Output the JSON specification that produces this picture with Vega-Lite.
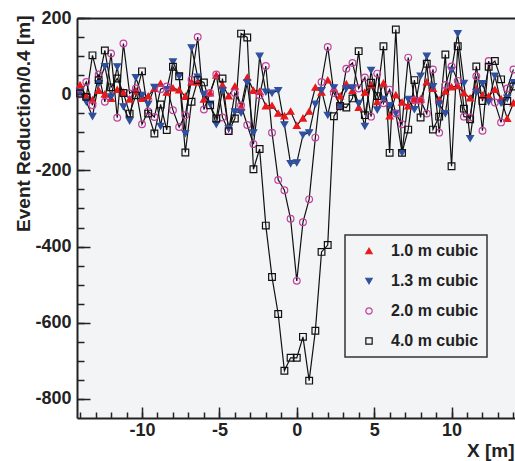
{
  "$schema": "https://vega.github.io/schema/vega-lite/v6.json",
  "width": 438,
  "height": 400,
  "autosize": {"type": "none"},
  "padding": {"left": 77, "top": 18, "right": 0, "bottom": 43},
  "background": "white",
  "config": {
    "view": {"stroke": null, "fill": "#f3f4f6"},
    "font": "Liberation Sans",
    "legend": {"strokeWidth": 1.5}
  },
  "datasets": {
    "pts": [
      {"x":-14,"v":24,"s":"1.0 m cubic"},{"x":-13.6,"v":-5,"s":"1.0 m cubic"},{"x":-13.2,"v":-15,"s":"1.0 m cubic"},{"x":-12.8,"v":10,"s":"1.0 m cubic"},{"x":-12.4,"v":0,"s":"1.0 m cubic"},{"x":-12,"v":-11,"s":"1.0 m cubic"},{"x":-11.6,"v":12,"s":"1.0 m cubic"},{"x":-11.2,"v":5,"s":"1.0 m cubic"},{"x":-10.8,"v":-13,"s":"1.0 m cubic"},{"x":-10.4,"v":8,"s":"1.0 m cubic"},
      {"x":-10,"v":-11,"s":"1.0 m cubic"},{"x":-9.6,"v":-5,"s":"1.0 m cubic"},{"x":-9.2,"v":15,"s":"1.0 m cubic"},{"x":-8.8,"v":28,"s":"1.0 m cubic"},{"x":-8.4,"v":5,"s":"1.0 m cubic"},{"x":-8,"v":16,"s":"1.0 m cubic"},{"x":-7.6,"v":11,"s":"1.0 m cubic"},{"x":-7.2,"v":-6,"s":"1.0 m cubic"},{"x":-6.8,"v":32,"s":"1.0 m cubic"},{"x":-6.4,"v":32,"s":"1.0 m cubic"},
      {"x":-6,"v":-13,"s":"1.0 m cubic"},{"x":-5.6,"v":3,"s":"1.0 m cubic"},{"x":-5.2,"v":50,"s":"1.0 m cubic"},{"x":-4.8,"v":24,"s":"1.0 m cubic"},{"x":-4.4,"v":-5,"s":"1.0 m cubic"},{"x":-4,"v":21,"s":"1.0 m cubic"},{"x":-3.6,"v":-33,"s":"1.0 m cubic"},{"x":-3.2,"v":44,"s":"1.0 m cubic"},{"x":-2.8,"v":10,"s":"1.0 m cubic"},{"x":-2.4,"v":7,"s":"1.0 m cubic"},
      {"x":-2,"v":-31,"s":"1.0 m cubic"},{"x":-1.6,"v":-30,"s":"1.0 m cubic"},{"x":-1.2,"v":-50,"s":"1.0 m cubic"},{"x":-0.8,"v":-57,"s":"1.0 m cubic"},{"x":-0.4,"v":-45,"s":"1.0 m cubic"},{"x":0,"v":-82,"s":"1.0 m cubic"},{"x":0.4,"v":-63,"s":"1.0 m cubic"},{"x":0.8,"v":-45,"s":"1.0 m cubic"},{"x":1.2,"v":18,"s":"1.0 m cubic"},{"x":1.6,"v":5,"s":"1.0 m cubic"},
      {"x":2,"v":37,"s":"1.0 m cubic"},{"x":2.4,"v":15,"s":"1.0 m cubic"},{"x":2.8,"v":-5,"s":"1.0 m cubic"},{"x":3.2,"v":27,"s":"1.0 m cubic"},{"x":3.6,"v":10,"s":"1.0 m cubic"},{"x":4,"v":-35,"s":"1.0 m cubic"},{"x":4.4,"v":5,"s":"1.0 m cubic"},{"x":4.8,"v":24,"s":"1.0 m cubic"},{"x":5.2,"v":-20,"s":"1.0 m cubic"},{"x":5.6,"v":29,"s":"1.0 m cubic"},
      {"x":6,"v":-57,"s":"1.0 m cubic"},{"x":6.4,"v":-2,"s":"1.0 m cubic"},{"x":6.8,"v":-21,"s":"1.0 m cubic"},{"x":7.2,"v":-31,"s":"1.0 m cubic"},{"x":7.6,"v":-13,"s":"1.0 m cubic"},{"x":8,"v":-13,"s":"1.0 m cubic"},{"x":8.4,"v":32,"s":"1.0 m cubic"},{"x":8.8,"v":15,"s":"1.0 m cubic"},{"x":9.2,"v":-15,"s":"1.0 m cubic"},{"x":9.6,"v":8,"s":"1.0 m cubic"},
      {"x":10,"v":19,"s":"1.0 m cubic"},{"x":10.4,"v":22,"s":"1.0 m cubic"},{"x":10.8,"v":3,"s":"1.0 m cubic"},{"x":11.2,"v":-10,"s":"1.0 m cubic"},{"x":11.6,"v":14,"s":"1.0 m cubic"},{"x":12,"v":-3,"s":"1.0 m cubic"},{"x":12.4,"v":-5,"s":"1.0 m cubic"},{"x":12.8,"v":12,"s":"1.0 m cubic"},{"x":13.2,"v":-12,"s":"1.0 m cubic"},{"x":13.6,"v":-64,"s":"1.0 m cubic"},{"x":14,"v":-23,"s":"1.0 m cubic"},

      {"x":-14,"v":6,"s":"1.3 m cubic"},{"x":-13.6,"v":-20,"s":"1.3 m cubic"},{"x":-13.2,"v":-58,"s":"1.3 m cubic"},{"x":-12.8,"v":28,"s":"1.3 m cubic"},{"x":-12.4,"v":73,"s":"1.3 m cubic"},{"x":-12,"v":-7,"s":"1.3 m cubic"},{"x":-11.6,"v":72,"s":"1.3 m cubic"},{"x":-11.2,"v":-33,"s":"1.3 m cubic"},{"x":-10.8,"v":-70,"s":"1.3 m cubic"},{"x":-10.4,"v":44,"s":"1.3 m cubic"},
      {"x":-10,"v":-3,"s":"1.3 m cubic"},{"x":-9.6,"v":-26,"s":"1.3 m cubic"},{"x":-9.2,"v":18,"s":"1.3 m cubic"},{"x":-8.8,"v":-84,"s":"1.3 m cubic"},{"x":-8.4,"v":12,"s":"1.3 m cubic"},{"x":-8,"v":85,"s":"1.3 m cubic"},{"x":-7.6,"v":47,"s":"1.3 m cubic"},{"x":-7.2,"v":-103,"s":"1.3 m cubic"},{"x":-6.8,"v":122,"s":"1.3 m cubic"},{"x":-6.4,"v":45,"s":"1.3 m cubic"},
      {"x":-6,"v":0,"s":"1.3 m cubic"},{"x":-5.6,"v":-26,"s":"1.3 m cubic"},{"x":-5.2,"v":-79,"s":"1.3 m cubic"},{"x":-4.8,"v":10,"s":"1.3 m cubic"},{"x":-4.4,"v":-90,"s":"1.3 m cubic"},{"x":-4,"v":-46,"s":"1.3 m cubic"},{"x":-3.6,"v":-49,"s":"1.3 m cubic"},{"x":-3.2,"v":30,"s":"1.3 m cubic"},{"x":-2.8,"v":-101,"s":"1.3 m cubic"},{"x":-2.4,"v":100,"s":"1.3 m cubic"},
      {"x":-2,"v":6,"s":"1.3 m cubic"},{"x":-1.6,"v":3,"s":"1.3 m cubic"},{"x":-1.2,"v":10,"s":"1.3 m cubic"},{"x":-0.8,"v":-80,"s":"1.3 m cubic"},{"x":-0.4,"v":-182,"s":"1.3 m cubic"},{"x":0,"v":-180,"s":"1.3 m cubic"},{"x":0.4,"v":-107,"s":"1.3 m cubic"},{"x":0.8,"v":-101,"s":"1.3 m cubic"},{"x":1.2,"v":-26,"s":"1.3 m cubic"},{"x":1.6,"v":10,"s":"1.3 m cubic"},
      {"x":2,"v":-55,"s":"1.3 m cubic"},{"x":2.4,"v":17,"s":"1.3 m cubic"},{"x":2.8,"v":-34,"s":"1.3 m cubic"},{"x":3.2,"v":15,"s":"1.3 m cubic"},{"x":3.6,"v":17,"s":"1.3 m cubic"},{"x":4,"v":-24,"s":"1.3 m cubic"},{"x":4.4,"v":-84,"s":"1.3 m cubic"},{"x":4.8,"v":63,"s":"1.3 m cubic"},{"x":5.2,"v":-41,"s":"1.3 m cubic"},{"x":5.6,"v":-13,"s":"1.3 m cubic"},
      {"x":6,"v":-30,"s":"1.3 m cubic"},{"x":6.4,"v":-50,"s":"1.3 m cubic"},{"x":6.8,"v":-154,"s":"1.3 m cubic"},{"x":7.2,"v":-13,"s":"1.3 m cubic"},{"x":7.6,"v":-40,"s":"1.3 m cubic"},{"x":8,"v":48,"s":"1.3 m cubic"},{"x":8.4,"v":100,"s":"1.3 m cubic"},{"x":8.8,"v":20,"s":"1.3 m cubic"},{"x":9.2,"v":-26,"s":"1.3 m cubic"},{"x":9.6,"v":-51,"s":"1.3 m cubic"},
      {"x":10,"v":63,"s":"1.3 m cubic"},{"x":10.4,"v":159,"s":"1.3 m cubic"},{"x":10.8,"v":29,"s":"1.3 m cubic"},{"x":11.2,"v":-116,"s":"1.3 m cubic"},{"x":11.6,"v":5,"s":"1.3 m cubic"},{"x":12,"v":28,"s":"1.3 m cubic"},{"x":12.4,"v":-20,"s":"1.3 m cubic"},{"x":12.8,"v":48,"s":"1.3 m cubic"},{"x":13.2,"v":-23,"s":"1.3 m cubic"},{"x":13.6,"v":-10,"s":"1.3 m cubic"},{"x":14,"v":31,"s":"1.3 m cubic"},

      {"x":-14,"v":0,"s":"2.0 m cubic"},{"x":-13.6,"v":32,"s":"2.0 m cubic"},{"x":-13.2,"v":-29,"s":"2.0 m cubic"},{"x":-12.8,"v":52,"s":"2.0 m cubic"},{"x":-12.4,"v":-20,"s":"2.0 m cubic"},{"x":-12,"v":107,"s":"2.0 m cubic"},{"x":-11.6,"v":-62,"s":"2.0 m cubic"},{"x":-11.2,"v":133,"s":"2.0 m cubic"},{"x":-10.8,"v":2,"s":"2.0 m cubic"},{"x":-10.4,"v":15,"s":"2.0 m cubic"},
      {"x":-10,"v":-79,"s":"2.0 m cubic"},{"x":-9.6,"v":-45,"s":"2.0 m cubic"},{"x":-9.2,"v":-60,"s":"2.0 m cubic"},{"x":-8.8,"v":13,"s":"2.0 m cubic"},{"x":-8.4,"v":20,"s":"2.0 m cubic"},{"x":-8,"v":-42,"s":"2.0 m cubic"},{"x":-7.6,"v":-86,"s":"2.0 m cubic"},{"x":-7.2,"v":-55,"s":"2.0 m cubic"},{"x":-6.8,"v":38,"s":"2.0 m cubic"},{"x":-6.4,"v":150,"s":"2.0 m cubic"},
      {"x":-6,"v":-40,"s":"2.0 m cubic"},{"x":-5.6,"v":3,"s":"2.0 m cubic"},{"x":-5.2,"v":52,"s":"2.0 m cubic"},{"x":-4.8,"v":-61,"s":"2.0 m cubic"},{"x":-4.4,"v":-96,"s":"2.0 m cubic"},{"x":-4,"v":3,"s":"2.0 m cubic"},{"x":-3.6,"v":-29,"s":"2.0 m cubic"},{"x":-3.2,"v":-81,"s":"2.0 m cubic"},{"x":-2.8,"v":-131,"s":"2.0 m cubic"},{"x":-2.4,"v":-3,"s":"2.0 m cubic"},
      {"x":-2,"v":74,"s":"2.0 m cubic"},{"x":-1.6,"v":-101,"s":"2.0 m cubic"},{"x":-1.2,"v":-225,"s":"2.0 m cubic"},{"x":-0.8,"v":-252,"s":"2.0 m cubic"},{"x":-0.4,"v":-327,"s":"2.0 m cubic"},{"x":0,"v":-490,"s":"2.0 m cubic"},{"x":0.4,"v":-336,"s":"2.0 m cubic"},{"x":0.8,"v":-276,"s":"2.0 m cubic"},{"x":1.2,"v":-114,"s":"2.0 m cubic"},{"x":1.6,"v":32,"s":"2.0 m cubic"},
      {"x":2,"v":124,"s":"2.0 m cubic"},{"x":2.4,"v":3,"s":"2.0 m cubic"},{"x":2.8,"v":-30,"s":"2.0 m cubic"},{"x":3.2,"v":67,"s":"2.0 m cubic"},{"x":3.6,"v":82,"s":"2.0 m cubic"},{"x":4,"v":15,"s":"2.0 m cubic"},{"x":4.4,"v":44,"s":"2.0 m cubic"},{"x":4.8,"v":-59,"s":"2.0 m cubic"},{"x":5.2,"v":54,"s":"2.0 m cubic"},{"x":5.6,"v":-24,"s":"2.0 m cubic"},
      {"x":6,"v":12,"s":"2.0 m cubic"},{"x":6.4,"v":-51,"s":"2.0 m cubic"},{"x":6.8,"v":-79,"s":"2.0 m cubic"},{"x":7.2,"v":96,"s":"2.0 m cubic"},{"x":7.6,"v":-16,"s":"2.0 m cubic"},{"x":8,"v":-17,"s":"2.0 m cubic"},{"x":8.4,"v":-51,"s":"2.0 m cubic"},{"x":8.8,"v":65,"s":"2.0 m cubic"},{"x":9.2,"v":-101,"s":"2.0 m cubic"},{"x":9.6,"v":24,"s":"2.0 m cubic"},
      {"x":10,"v":73,"s":"2.0 m cubic"},{"x":10.4,"v":35,"s":"2.0 m cubic"},{"x":10.8,"v":-59,"s":"2.0 m cubic"},{"x":11.2,"v":-61,"s":"2.0 m cubic"},{"x":11.6,"v":47,"s":"2.0 m cubic"},{"x":12,"v":-96,"s":"2.0 m cubic"},{"x":12.4,"v":87,"s":"2.0 m cubic"},{"x":12.8,"v":-22,"s":"2.0 m cubic"},{"x":13.2,"v":-74,"s":"2.0 m cubic"},{"x":13.6,"v":15,"s":"2.0 m cubic"},{"x":14,"v":65,"s":"2.0 m cubic"},

      {"x":-14,"v":2,"s":"4.0 m cubic"},{"x":-13.6,"v":-7,"s":"4.0 m cubic"},{"x":-13.2,"v":102,"s":"4.0 m cubic"},{"x":-12.8,"v":37,"s":"4.0 m cubic"},{"x":-12.4,"v":115,"s":"4.0 m cubic"},{"x":-12,"v":18,"s":"4.0 m cubic"},{"x":-11.6,"v":41,"s":"4.0 m cubic"},{"x":-11.2,"v":3,"s":"4.0 m cubic"},{"x":-10.8,"v":-51,"s":"4.0 m cubic"},{"x":-10.4,"v":-3,"s":"4.0 m cubic"},
      {"x":-10,"v":60,"s":"4.0 m cubic"},{"x":-9.6,"v":-51,"s":"4.0 m cubic"},{"x":-9.2,"v":-103,"s":"4.0 m cubic"},{"x":-8.8,"v":-27,"s":"4.0 m cubic"},{"x":-8.4,"v":-94,"s":"4.0 m cubic"},{"x":-8,"v":72,"s":"4.0 m cubic"},{"x":-7.6,"v":47,"s":"4.0 m cubic"},{"x":-7.2,"v":-153,"s":"4.0 m cubic"},{"x":-6.8,"v":-20,"s":"4.0 m cubic"},{"x":-6.4,"v":37,"s":"4.0 m cubic"},
      {"x":-6,"v":31,"s":"4.0 m cubic"},{"x":-5.6,"v":-29,"s":"4.0 m cubic"},{"x":-5.2,"v":-64,"s":"4.0 m cubic"},{"x":-4.8,"v":41,"s":"4.0 m cubic"},{"x":-4.4,"v":-97,"s":"4.0 m cubic"},{"x":-4,"v":-64,"s":"4.0 m cubic"},{"x":-3.6,"v":159,"s":"4.0 m cubic"},{"x":-3.2,"v":149,"s":"4.0 m cubic"},{"x":-2.8,"v":-197,"s":"4.0 m cubic"},{"x":-2.4,"v":-144,"s":"4.0 m cubic"},
      {"x":-2,"v":-345,"s":"4.0 m cubic"},{"x":-1.6,"v":-480,"s":"4.0 m cubic"},{"x":-1.2,"v":-577,"s":"4.0 m cubic"},{"x":-0.8,"v":-726,"s":"4.0 m cubic"},{"x":-0.4,"v":-692,"s":"4.0 m cubic"},{"x":0,"v":-692,"s":"4.0 m cubic"},{"x":0.4,"v":-637,"s":"4.0 m cubic"},{"x":0.8,"v":-752,"s":"4.0 m cubic"},{"x":1.2,"v":-621,"s":"4.0 m cubic"},{"x":1.6,"v":-414,"s":"4.0 m cubic"},
      {"x":2,"v":-396,"s":"4.0 m cubic"},{"x":2.4,"v":-58,"s":"4.0 m cubic"},{"x":2.8,"v":-31,"s":"4.0 m cubic"},{"x":3.2,"v":-35,"s":"4.0 m cubic"},{"x":3.6,"v":-11,"s":"4.0 m cubic"},{"x":4,"v":113,"s":"4.0 m cubic"},{"x":4.4,"v":-55,"s":"4.0 m cubic"},{"x":4.8,"v":30,"s":"4.0 m cubic"},{"x":5.2,"v":-5,"s":"4.0 m cubic"},{"x":5.6,"v":126,"s":"4.0 m cubic"},
      {"x":6,"v":-154,"s":"4.0 m cubic"},{"x":6.4,"v":170,"s":"4.0 m cubic"},{"x":6.8,"v":-154,"s":"4.0 m cubic"},{"x":7.2,"v":-93,"s":"4.0 m cubic"},{"x":7.6,"v":37,"s":"4.0 m cubic"},{"x":8,"v":-61,"s":"4.0 m cubic"},{"x":8.4,"v":80,"s":"4.0 m cubic"},{"x":8.8,"v":-93,"s":"4.0 m cubic"},{"x":9.2,"v":-59,"s":"4.0 m cubic"},{"x":9.6,"v":104,"s":"4.0 m cubic"},
      {"x":10,"v":-189,"s":"4.0 m cubic"},{"x":10.4,"v":126,"s":"4.0 m cubic"},{"x":10.8,"v":-38,"s":"4.0 m cubic"},{"x":11.2,"v":-66,"s":"4.0 m cubic"},{"x":11.6,"v":73,"s":"4.0 m cubic"},{"x":12,"v":-18,"s":"4.0 m cubic"},{"x":12.4,"v":72,"s":"4.0 m cubic"},{"x":12.8,"v":87,"s":"4.0 m cubic"},{"x":13.2,"v":39,"s":"4.0 m cubic"},{"x":13.6,"v":-18,"s":"4.0 m cubic"},{"x":14,"v":20,"s":"4.0 m cubic"}
    ]
  },
  "data": {"name": "pts"},
  "resolve": {"axis": {"x": "independent", "y": "independent"}},
  "layer": [
    {
      "mark": {"type": "line", "color": "#111111", "strokeWidth": 1.2},
      "encoding": {
        "x": {
          "field": "x", "type": "quantitative",
          "scale": {"domain": [-14.2, 14.1], "nice": false, "zero": false},
          "axis": {
            "orient": "bottom", "values": [-10, -5, 0, 5, 10], "grid": false,
            "labelExpr": "'' + datum.value",
            "domain": true, "domainColor": "#222222", "domainWidth": 2,
            "tickSize": -11, "tickWidth": 1.5, "tickColor": "#222222",
            "labelFont": "Liberation Sans", "labelFontWeight": "bold", "labelFontSize": 18, "labelColor": "#222222", "labelPadding": 14,
            "title": "X [m]", "titleFont": "Liberation Sans", "titleFontWeight": "bold", "titleFontSize": 19, "titleColor": "#222222",
            "titleX": 437, "titleY": 32, "titleAlign": "right", "titleBaseline": "middle", "titleAngle": 0
          }
        },
        "y": {
          "field": "v", "type": "quantitative",
          "scale": {"domain": [-850, 200], "nice": false, "zero": false},
          "axis": {
            "orient": "left", "values": [-800, -600, -400, -200, 0, 200], "grid": false,
            "labelExpr": "'' + datum.value",
            "domain": true, "domainColor": "#222222", "domainWidth": 2,
            "tickSize": -13, "tickWidth": 1.5, "tickColor": "#222222",
            "labelFont": "Liberation Sans", "labelFontWeight": "bold", "labelFontSize": 18, "labelColor": "#222222", "labelPadding": 19,
            "title": "Event Reduction/0.4 [m]", "titleFont": "Liberation Sans", "titleFontWeight": "bold", "titleFontSize": 19, "titleColor": "#222222",
            "titleAngle": -90, "titleX": -54, "titleY": -3, "titleAlign": "right", "titleBaseline": "middle"
          }
        },
        "detail": {"field": "s", "type": "nominal"}
      }
    },
    {
      "mark": {"type": "point", "filled": true, "size": 45, "strokeWidth": 1.2, "opacity": 1},
      "encoding": {
        "x": {
          "field": "x", "type": "quantitative",
          "scale": {"domain": [-14.2, 14.1], "nice": false, "zero": false},
          "axis": {
            "orient": "bottom", "values": [-14, -13, -12, -11, -10, -9, -8, -7, -6, -5, -4, -3, -2, -1, 0, 1, 2, 3, 4, 5, 6, 7, 8, 9, 10, 11, 12, 13, 14],
            "labels": false, "title": null, "domain": false, "grid": false,
            "tickSize": -6, "tickWidth": 1.5, "tickColor": "#222222"
          }
        },
        "y": {
          "field": "v", "type": "quantitative",
          "scale": {"domain": [-850, 200], "nice": false, "zero": false},
          "axis": {
            "orient": "left", "values": [-800, -750, -700, -650, -600, -550, -500, -450, -400, -350, -300, -250, -200, -150, -100, -50, 0, 50, 100, 150, 200],
            "labels": false, "title": null, "domain": false, "grid": false,
            "tickSize": -7, "tickWidth": 1.5, "tickColor": "#222222"
          }
        },
        "shape": {
          "field": "s", "type": "nominal",
          "scale": {"domain": ["1.0 m cubic", "1.3 m cubic", "2.0 m cubic", "4.0 m cubic"], "range": ["triangle-up", "triangle-down", "circle", "square"]},
          "legend": {
            "orient": "none", "legendX": 268, "legendY": 217, "title": null,
            "padding": 8, "symbolOffset": 8, "labelOffset": 14, "rowPadding": 14,
            "symbolSize": 40, "symbolStrokeWidth": 1.2,
            "labelFont": "Liberation Sans", "labelFontWeight": "bold", "labelFontSize": 16, "labelColor": "#222222",
            "labelExpr": "datum.label + '\u00a0\u00a0\u00a0\u00a0\u00a0\u00a0'",
            "fillColor": "#f3f4f6", "strokeColor": "#333333"
          }
        },
        "fill": {
          "field": "s", "type": "nominal",
          "scale": {"domain": ["1.0 m cubic", "1.3 m cubic", "2.0 m cubic", "4.0 m cubic"], "range": ["#e8191c", "#2f4f9f", "transparent", "transparent"]}
        },
        "stroke": {
          "field": "s", "type": "nominal",
          "scale": {"domain": ["1.0 m cubic", "1.3 m cubic", "2.0 m cubic", "4.0 m cubic"], "range": ["#e8191c", "#2f4f9f", "#c2409e", "#111111"]}
        }
      }
    },
    {
      "mark": {"type": "point", "opacity": 0},
      "encoding": {
        "x": {
          "field": "x", "type": "quantitative",
          "scale": {"domain": [-14.2, 14.1], "nice": false, "zero": false},
          "axis": {"orient": "top", "domain": true, "domainColor": "#222222", "domainWidth": 2, "ticks": false, "labels": false, "title": null, "grid": false}
        },
        "y": {
          "field": "v", "type": "quantitative",
          "scale": {"domain": [-850, 200], "nice": false, "zero": false},
          "axis": null
        }
      }
    }
  ]
}
